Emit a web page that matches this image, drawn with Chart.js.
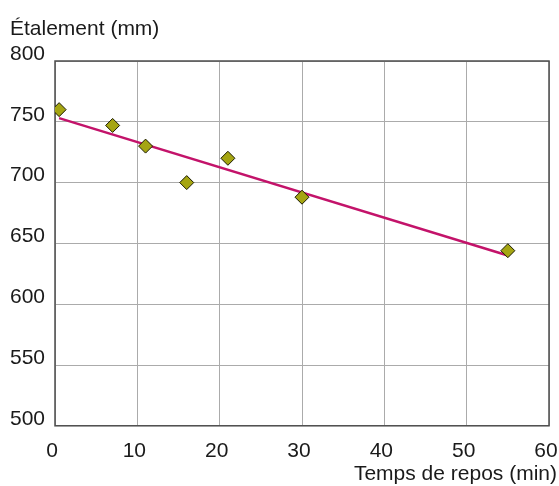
<!DOCTYPE html>
<html>
<head>
<meta charset="utf-8">
<script src="https://cdn.jsdelivr.net/npm/chart.js@4/dist/chart.umd.min.js"></script>
<style>
  html, body { margin: 0; padding: 0; background: #fff; }
  #wrap { width: 559px; height: 486px; position: relative; }
</style>
</head>
<body>
<div id="wrap"><canvas id="chart"></canvas></div>
<script>
// DATA
var restTimes = [0.5, 7, 11, 16, 21, 30, 55];          // min
var spreadValues = [760, 747, 730, 700, 720, 688, 644]; // mm
var trendTimes = [0.5, 55];
var trendValues = [753, 640];
var xTicks = [0, 10, 20, 30, 40, 50, 60];
var yTicks = [500, 550, 600, 650, 700, 750, 800];
var yTitle = 'Étalement (mm)';
var xTitle = 'Temps de repos (min)';

var FONT = 'Liberation Sans, Arial, Helvetica, sans-serif';

// frame + axis titles
var framePlugin = {
  id: 'frame',
  beforeDatasetsDraw: function (chart) {
    var a = chart.chartArea, ctx = chart.ctx;
    ctx.save();
    ctx.strokeStyle = '#4d4d4d';
    ctx.lineWidth = 1.5;
    ctx.strokeRect(a.left, a.top, a.right - a.left, a.bottom - a.top);
    ctx.restore();
  },
  afterDraw: function (chart) {
    var ctx = chart.ctx;
    ctx.save();
    ctx.fillStyle = '#1a1a1a';
    ctx.font = '21px ' + FONT;
    ctx.textBaseline = 'alphabetic';
    ctx.textAlign = 'left';
    ctx.fillText(yTitle, 10, 35);
    ctx.textAlign = 'right';
    ctx.fillText(xTitle, 557, 480);
    ctx.restore();
  }
};

var ctx = document.getElementById('chart').getContext('2d');
var chart = new Chart(ctx, {
  type: 'scatter',
  data: {
    datasets: [
      {
        label: 'mesures',
        data: restTimes.map(function (t, i) { return { x: t, y: spreadValues[i] }; }),
        pointStyle: 'rectRot',
        pointRadius: 7,
        pointBackgroundColor: '#a5a512',
        pointBorderColor: '#1a1a00',
        pointBorderWidth: 1,
        order: 0
      },
      {
        label: 'tendance',
        type: 'line',
        data: trendTimes.map(function (t, i) { return { x: t, y: trendValues[i] }; }),
        borderColor: '#c3136a',
        borderWidth: 2.5,
        pointRadius: 0,
        fill: false,
        order: 1
      }
    ]
  },
  options: {
    responsive: true,
    maintainAspectRatio: false,
    animation: false,
    layout: { padding: { top: 61, right: 0, bottom: 9, left: 0 } },
    plugins: {
      legend: { display: false },
      tooltip: { enabled: false }
    },
    scales: {
      x: {
        type: 'linear',
        min: 0,
        max: 60,
        afterBuildTicks: function (scale) {
          scale.ticks = xTicks.map(function (v) { return { value: v }; });
        },
        afterFit: function (scale) { scale.paddingRight = 10; },
        grid: { color: '#ababab', lineWidth: 1, drawTicks: false },
        border: { display: false },
        ticks: { color: '#1a1a1a', font: { family: FONT, size: 21 }, padding: 13, maxRotation: 0, labelOffset: -3 }
      },
      y: {
        type: 'linear',
        min: 500,
        max: 800,
        afterBuildTicks: function (scale) {
          scale.ticks = yTicks.map(function (v) { return { value: v }; });
        },
        afterFit: function (scale) { scale.width = 55; },
        grid: { color: '#ababab', lineWidth: 1, drawTicks: false },
        border: { display: false },
        ticks: { color: '#1a1a1a', font: { family: FONT, size: 21 }, padding: 10, labelOffset: -7 }
      }
    }
  },
  plugins: [framePlugin]
});
</script>
</body>
</html>
